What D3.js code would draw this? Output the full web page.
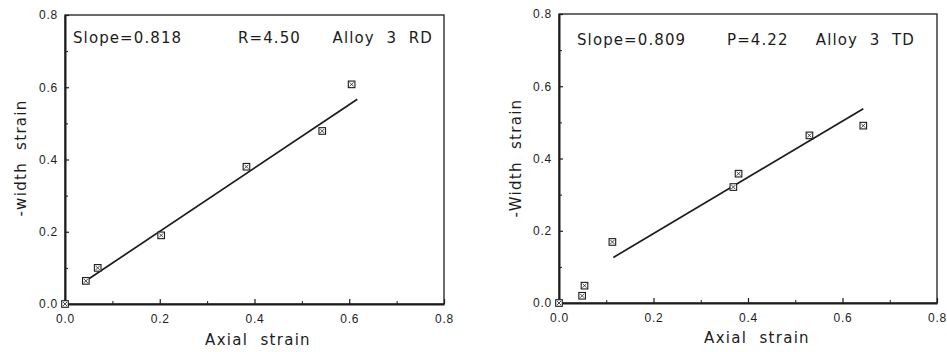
<!DOCTYPE html>
<html>
<head>
<meta charset="utf-8">
<script src="https://cdn.jsdelivr.net/npm/d3@7"></script>
<style>
  body { margin: 0; background: #fff; }
  svg { display: block; font-family: "DejaVu Sans", "Liberation Sans", sans-serif; }
  text { white-space: pre; }
</style>
</head>
<body>
<svg id="chart" width="947" height="352"></svg>
<script>
// tick values shared by both panels
const majorTicks = [0, 0.2, 0.4, 0.6, 0.8];
const minorTicks = [0.1, 0.3, 0.5, 0.7];

// Alloy 3 RD
const rdAxial = [0, 0.044, 0.069, 0.203, 0.383, 0.543, 0.605];
const rdWidth = [0, 0.064, 0.100, 0.190, 0.380, 0.479, 0.608];
const rdFitAxial = [0.045, 0.617];
const rdFitWidth = [0.065, 0.567];
const rdNotes = ['Slope=0.818', 'R=4.50', 'Alloy  3  RD'];

// Alloy 3 TD
const tdAxial = [0, 0.049, 0.054, 0.113, 0.369, 0.380, 0.530, 0.644];
const tdWidth = [0, 0.020, 0.048, 0.169, 0.321, 0.358, 0.464, 0.491];
const tdFitAxial = [0.115, 0.644];
const tdFitWidth = [0.126, 0.538];
const tdNotes = ['Slope=0.809', 'P=4.22', 'Alloy  3  TD'];

const ink = '#1c1c1c';
const svg = d3.select('#chart');

function drawPanel(opt) {
    const { left, right, top, bottom } = opt.frame;
    const g = svg.append('g');

    const x = d3.scaleLinear().domain([0, 0.8]).range([left, right]);
    const y = d3.scaleLinear().domain([0, 0.8]).range([bottom, top]);

    // frame
    g.append('rect')
        .attr('x', left).attr('y', top)
        .attr('width', right - left).attr('height', bottom - top)
        .attr('fill', 'none')
        .attr('stroke', ink)
        .attr('stroke-width', 1.3);

    // axes: inward ticks
    const xAxis = d3.axisBottom(x).tickValues(majorTicks)
        .tickFormat(d3.format('.1f'))
        .tickSizeInner(-5).tickSizeOuter(0).tickPadding(10);
    const yAxis = d3.axisLeft(y).tickValues(majorTicks)
        .tickFormat(d3.format('.1f'))
        .tickSizeInner(-4).tickSizeOuter(0).tickPadding(7);

    const gx = g.append('g')
        .attr('transform', `translate(0,${bottom})`)
        .call(xAxis);
    const gy = g.append('g')
        .attr('transform', `translate(${left},0)`)
        .call(yAxis);

    [gx, gy].forEach(a => {
        a.select('.domain').attr('stroke', ink).attr('stroke-width', 2);
        a.selectAll('.tick line').attr('stroke', ink).attr('stroke-width', 1.2);
        a.selectAll('.tick text')
            .attr('fill', ink)
            .style('font-size', '12px')
            .style('letter-spacing', '0.8px');
    });

    // minor ticks
    g.append('g')
        .attr('transform', `translate(0,${bottom})`)
        .call(d3.axisBottom(x).tickValues(minorTicks).tickSize(-3).tickFormat(''))
        .call(s => s.select('.domain').remove())
        .selectAll('.tick line').attr('stroke', ink);
    g.append('g')
        .attr('transform', `translate(${left},0)`)
        .call(d3.axisLeft(y).tickValues(minorTicks).tickSize(-3).tickFormat(''))
        .call(s => s.select('.domain').remove())
        .selectAll('.tick line').attr('stroke', ink);

    // fitted line
    const fit = d3.zip(opt.fitX, opt.fitY);
    g.append('path')
        .datum(fit)
        .attr('fill', 'none')
        .attr('stroke', ink)
        .attr('stroke-width', 1.7)
        .attr('d', d3.line().x(d => x(d[0])).y(d => y(d[1])));

    // boxed-cross markers
    const pts = d3.zip(opt.xs, opt.ys);
    const s = 3.3;
    const mk = g.selectAll('.pt').data(pts).join('g')
        .attr('class', 'pt')
        .attr('transform', d => `translate(${x(d[0])},${y(d[1])})`);
    mk.append('rect')
        .attr('x', -s).attr('y', -s)
        .attr('width', 2 * s).attr('height', 2 * s)
        .attr('fill', '#fff')
        .attr('stroke', ink).attr('stroke-width', 1.1);
    mk.append('path')
        .attr('d', `M${-s + 1.3},${-s + 1.3}L${s - 1.3},${s - 1.3}M${s - 1.3},${-s + 1.3}L${-s + 1.3},${s - 1.3}`)
        .attr('stroke', ink).attr('stroke-width', 0.8);

    // annotations
    opt.notes.forEach((t, i) => {
        g.append('text')
            .attr('x', opt.noteX[i])
            .attr('y', opt.noteY)
            .attr('text-anchor', i === 2 ? 'end' : 'start')
            .attr('fill', ink)
            .style('font-size', '15px')
            .style('letter-spacing', '1.1px')
            .text(t);
    });

    // axis titles
    g.append('text')
        .attr('x', opt.xTitle[0]).attr('y', opt.xTitle[1])
        .attr('text-anchor', 'middle')
        .attr('fill', ink)
        .style('font-size', '15px')
        .style('letter-spacing', '1.3px')
        .text('Axial  strain');

    g.append('text')
        .attr('transform', `translate(${opt.yTitle[0]},${opt.yTitle[1]}) rotate(-90)`)
        .attr('text-anchor', 'middle')
        .attr('fill', ink)
        .style('font-size', '15px')
        .style('letter-spacing', '1.3px')
        .text(opt.yLabel);
}

drawPanel({
    frame: { left: 65, right: 444, top: 15, bottom: 304 },
    xs: rdAxial, ys: rdWidth, fitX: rdFitAxial, fitY: rdFitWidth,
    notes: rdNotes, noteX: [73, 238, 433], noteY: 43,
    xTitle: [258, 345], yTitle: [26, 158], yLabel: '-width  strain'
});

drawPanel({
    frame: { left: 559, right: 937, top: 14, bottom: 303 },
    xs: tdAxial, ys: tdWidth, fitX: tdFitAxial, fitY: tdFitWidth,
    notes: tdNotes, noteX: [577, 727, 915], noteY: 45,
    xTitle: [757, 343], yTitle: [521, 158], yLabel: '-Width  strain'
});
</script>
</body>
</html>
